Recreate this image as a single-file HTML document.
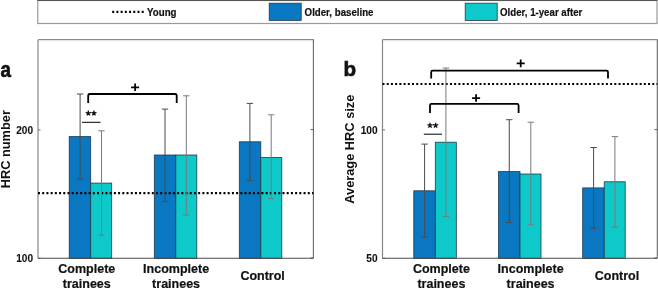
<!DOCTYPE html>
<html><head><meta charset="utf-8"><style>
html,body{margin:0;padding:0;background:#fff;}
body{width:658px;height:288px;overflow:hidden;}
svg{display:block;will-change:transform;}
text{font-family:"Liberation Sans",sans-serif;font-weight:bold;fill:#111;stroke:#111;stroke-width:0.2px;}
</style></head><body>
<svg width="658" height="288" viewBox="0 0 658 288">

<rect x="37.8" y="0.5" width="619.2" height="23.0" fill="#fff" stroke="#999" stroke-width="1.2"/>
<line x1="37.3" y1="0.5" x2="657.2" y2="0.5" stroke="#555" stroke-width="1"/>
<line x1="112.2" y1="11.8" x2="144" y2="11.8" stroke="#000" stroke-width="2.2" stroke-dasharray="2 2.215"/>
<text transform="translate(147.1 15.6) scale(0.95 1)" font-size="10.2">Young</text>
<rect x="269.2" y="3.2" width="32" height="17.2" fill="#0977c1" stroke="#1f3a4a" stroke-width="0.8"/>
<text transform="translate(304.6 15.6) scale(0.95 1)" font-size="10.2">Older, baseline</text>
<rect x="465.2" y="3.2" width="32" height="17.2" fill="#0dc9c9" stroke="#1f3a4a" stroke-width="0.8"/>
<text transform="translate(500 15.6) scale(0.95 1)" font-size="10.2">Older, 1-year after</text>
<line x1="38" y1="39.7" x2="313.9" y2="39.7" stroke="#6e6e6e" stroke-width="1"/>
<line x1="313.4" y1="39.7" x2="313.4" y2="258.3" stroke="#666" stroke-width="1.1"/>
<line x1="38" y1="39.7" x2="38" y2="258.3" stroke="#b0b0b0" stroke-width="1.8"/>
<line x1="38" y1="129.9" x2="40.5" y2="129.9" stroke="#555" stroke-width="0.8"/>
<line x1="310.4" y1="129.6" x2="313.4" y2="129.6" stroke="#555" stroke-width="0.9"/>
<text x="33.0" y="133.5" font-size="10.1" text-anchor="end" style="stroke-width:0.1px">200</text>
<line x1="38" y1="258.3" x2="40.5" y2="258.3" stroke="#555" stroke-width="0.8"/>
<line x1="310.4" y1="258.0" x2="313.4" y2="258.0" stroke="#555" stroke-width="0.9"/>
<text x="33.0" y="261.90000000000003" font-size="10.1" text-anchor="end" style="stroke-width:0.1px">100</text>
<rect x="69.2" y="136.6" width="21.5" height="121.70000000000002" fill="#0977c1" stroke="#1f3a4a" stroke-width="0.8"/>
<rect x="90.7" y="183.1" width="21" height="75.20000000000002" fill="#0dc9c9" stroke="#1f3a4a" stroke-width="0.8"/>
<rect x="154.3" y="155" width="21.5" height="103.30000000000001" fill="#0977c1" stroke="#1f3a4a" stroke-width="0.8"/>
<rect x="175.8" y="155" width="21" height="103.30000000000001" fill="#0dc9c9" stroke="#1f3a4a" stroke-width="0.8"/>
<rect x="239.3" y="141.8" width="21.5" height="116.5" fill="#0977c1" stroke="#1f3a4a" stroke-width="0.8"/>
<rect x="260.8" y="157.4" width="21" height="100.9" fill="#0dc9c9" stroke="#1f3a4a" stroke-width="0.8"/>
<line x1="38" y1="193.1" x2="313.4" y2="193.1" stroke="#000" stroke-width="2.2" stroke-dasharray="2 2.215"/>
<path d="M80.1 94V179.1M76.89999999999999 94H83.3M76.89999999999999 179.1H83.3" stroke="#4a4a4a" stroke-width="1" fill="none"/>
<path d="M101.5 130.8V235.2M98.3 130.8H104.7M98.3 235.2H104.7" stroke="#7a7a7a" stroke-width="1" fill="none"/>
<path d="M165 109.1V201.6M161.8 109.1H168.2M161.8 201.6H168.2" stroke="#4a4a4a" stroke-width="1" fill="none"/>
<path d="M186.3 95.8V215.2M183.10000000000002 95.8H189.5M183.10000000000002 215.2H189.5" stroke="#7a7a7a" stroke-width="1" fill="none"/>
<path d="M249.9 103.4V180.6M246.70000000000002 103.4H253.1M246.70000000000002 180.6H253.1" stroke="#4a4a4a" stroke-width="1" fill="none"/>
<path d="M271.2 114.8V198.6M268.0 114.8H274.4M268.0 198.6H274.4" stroke="#7a7a7a" stroke-width="1" fill="none"/>
<line x1="38" y1="258.3" x2="313.4" y2="258.3" stroke="#4a4a4a" stroke-width="1.1"/>
<text x="86.8" y="272.5" font-size="12.5" text-anchor="middle">Complete</text>
<text x="86.8" y="287.6" font-size="12.5" text-anchor="middle">trainees</text>
<text x="176.1" y="272.5" font-size="12.5" text-anchor="middle">Incomplete</text>
<text x="176.1" y="287.6" font-size="12.5" text-anchor="middle">trainees</text>
<text x="262.6" y="280" font-size="12.5" text-anchor="middle">Control</text>
<text transform="translate(9.6 149.2) rotate(-90)" font-size="12.8" text-anchor="middle" style="stroke-width:0">HRC number</text>
<text transform="translate(0.6 76.6) scale(0.86 1)" font-size="21.8" style="stroke-width:0.7px">a</text>
<path d="M88.2 103V95.5Q88.2 94 89.7 94H175.2Q176.7 94 176.7 95.5V103" stroke="#000" stroke-width="1.8" fill="none"/>
<path d="M131.1 87.3H139.1M135.1 83.5V91.1" stroke="#000" stroke-width="1.75" fill="none"/>
<path d="M88.30 113.30L88.30 110.60M88.30 113.30L90.87 112.47M88.30 113.30L85.73 112.47M88.30 113.30L89.89 115.48M88.30 113.30L86.71 115.48M93.90 113.30L93.90 110.60M93.90 113.30L96.47 112.47M93.90 113.30L91.33 112.47M93.90 113.30L95.49 115.48M93.90 113.30L92.31 115.48" stroke="#111" stroke-width="1.3" fill="none"/><line x1="82" y1="122.3" x2="100.5" y2="122.3" stroke="#000" stroke-width="1"/>
<line x1="382.5" y1="39.7" x2="657.8" y2="39.7" stroke="#6e6e6e" stroke-width="1"/>
<line x1="657.3" y1="39.7" x2="657.3" y2="258.3" stroke="#666" stroke-width="1.1"/>
<line x1="382.5" y1="39.7" x2="382.5" y2="258.3" stroke="#888" stroke-width="1.2"/>
<line x1="382.5" y1="129.9" x2="385.0" y2="129.9" stroke="#555" stroke-width="0.8"/>
<line x1="654.3" y1="129.6" x2="657.3" y2="129.6" stroke="#555" stroke-width="0.9"/>
<text x="377.5" y="133.5" font-size="10.1" text-anchor="end" style="stroke-width:0.1px">100</text>
<line x1="382.5" y1="258.3" x2="385.0" y2="258.3" stroke="#555" stroke-width="0.8"/>
<line x1="654.3" y1="258.0" x2="657.3" y2="258.0" stroke="#555" stroke-width="0.9"/>
<text x="377.5" y="261.90000000000003" font-size="10.1" text-anchor="end" style="stroke-width:0.1px">50</text>
<rect x="413.8" y="190.8" width="21.5" height="67.5" fill="#0977c1" stroke="#1f3a4a" stroke-width="0.8"/>
<rect x="435.3" y="142.2" width="21" height="116.10000000000002" fill="#0dc9c9" stroke="#1f3a4a" stroke-width="0.8"/>
<rect x="498.5" y="171.6" width="21.5" height="86.70000000000002" fill="#0977c1" stroke="#1f3a4a" stroke-width="0.8"/>
<rect x="520" y="174" width="21" height="84.30000000000001" fill="#0dc9c9" stroke="#1f3a4a" stroke-width="0.8"/>
<rect x="582.7" y="187.9" width="21.5" height="70.4" fill="#0977c1" stroke="#1f3a4a" stroke-width="0.8"/>
<rect x="604.2" y="181.8" width="21" height="76.5" fill="#0dc9c9" stroke="#1f3a4a" stroke-width="0.8"/>
<line x1="382.5" y1="84" x2="657.3" y2="84" stroke="#000" stroke-width="2.2" stroke-dasharray="2 2.215"/>
<path d="M424.6 144.1V236.9M421.40000000000003 144.1H427.8M421.40000000000003 236.9H427.8" stroke="#4a4a4a" stroke-width="1" fill="none"/>
<path d="M445.9 68V216.6M442.7 68H449.09999999999997M442.7 216.6H449.09999999999997" stroke="#7a7a7a" stroke-width="1" fill="none"/>
<path d="M509.25 119.7V222.5M506.05 119.7H512.45M506.05 222.5H512.45" stroke="#4a4a4a" stroke-width="1" fill="none"/>
<path d="M530.8 122.2V224.7M527.5999999999999 122.2H534.0M527.5999999999999 224.7H534.0" stroke="#7a7a7a" stroke-width="1" fill="none"/>
<path d="M593.6 147.5V228.3M590.4 147.5H596.8000000000001M590.4 228.3H596.8000000000001" stroke="#4a4a4a" stroke-width="1" fill="none"/>
<path d="M614.9 136.6V227.1M611.6999999999999 136.6H618.1M611.6999999999999 227.1H618.1" stroke="#7a7a7a" stroke-width="1" fill="none"/>
<line x1="382.5" y1="258.3" x2="657.3" y2="258.3" stroke="#4a4a4a" stroke-width="1.1"/>
<text x="441.4" y="272.5" font-size="12.5" text-anchor="middle">Complete</text>
<text x="441.4" y="287.6" font-size="12.5" text-anchor="middle">trainees</text>
<text x="530.6" y="272.5" font-size="12.5" text-anchor="middle">Incomplete</text>
<text x="530.6" y="287.6" font-size="12.5" text-anchor="middle">trainees</text>
<text x="617.0" y="280" font-size="12.5" text-anchor="middle">Control</text>
<text transform="translate(354.4 149.2) rotate(-90)" font-size="12.8" text-anchor="middle" style="stroke-width:0">Average HRC size</text>
<text transform="translate(343.6 76.35) scale(1.0 1)" font-size="20.6" style="stroke-width:0.7px">b</text>
<path d="M431.2 78.6V72.1Q431.2 70.6 432.7 70.6H606.5Q608 70.6 608 72.1V78.6" stroke="#000" stroke-width="1.8" fill="none"/>
<path d="M516.7 63.4H524.7M520.7 59.6V67.2" stroke="#000" stroke-width="1.75" fill="none"/>
<path d="M430 113V105.4Q430 103.9 431.5 103.9H517.1Q518.6 103.9 518.6 105.4V113" stroke="#000" stroke-width="1.8" fill="none"/>
<path d="M472.1 98H480.1M476.1 94.2V101.8" stroke="#000" stroke-width="1.75" fill="none"/>
<path d="M430.00 125.40L430.00 122.70M430.00 125.40L432.57 124.57M430.00 125.40L427.43 124.57M430.00 125.40L431.59 127.58M430.00 125.40L428.41 127.58M435.60 125.40L435.60 122.70M435.60 125.40L438.17 124.57M435.60 125.40L433.03 124.57M435.60 125.40L437.19 127.58M435.60 125.40L434.01 127.58" stroke="#111" stroke-width="1.3" fill="none"/><line x1="423.8" y1="134.2" x2="442" y2="134.2" stroke="#000" stroke-width="1"/>
</svg></body></html>
